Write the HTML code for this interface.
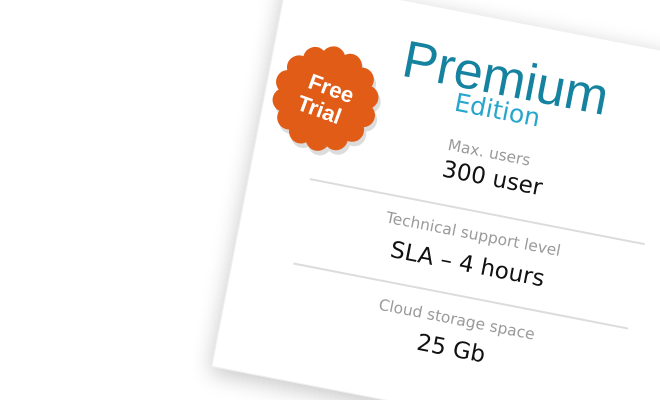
<!DOCTYPE html>
<html><head><meta charset="utf-8"><style>
html,body{margin:0;padding:0;width:660px;height:400px;overflow:hidden;background:#fff;font-family:"DejaVu Sans","Liberation Sans",sans-serif;}
.wrap{position:relative;width:660px;height:400px;overflow:hidden;}
.card{position:absolute;left:287px;top:-23px;width:470px;height:397px;background:#fff;transform-origin:0 0;transform:rotate(11deg);box-shadow:0 6px 22px rgba(0,0,0,.22);border:1px solid #eee;box-sizing:border-box;}
.t{position:absolute;left:0;width:462px;text-align:center;white-space:nowrap;}
.line{position:absolute;left:60px;width:341px;height:2px;background:#dcdcdc;}
.badge{position:absolute;left:0;top:51px;width:120px;height:120px;}
</style></head><body>
<div class="wrap">
<div class="card">
  <div class="t" style="top:27px;left:2px;line-height:60px;font-size:52px;color:#15829f;font-family:'Liberation Sans',sans-serif;">Premium</div>
  <div class="t" style="top:74px;line-height:32px;font-size:25px;color:#26a6cc;">Edition</div>
  <div class="t" style="top:122px;line-height:22px;font-size:15.5px;color:#9a9a9a;">Max. users</div>
  <div class="t" style="top:143px;left:8px;line-height:30px;font-size:23px;color:#111;">300 user</div>
  <div class="line" style="top:192px;"></div>
  <div class="t" style="top:205px;line-height:22px;font-size:15.5px;color:#9a9a9a;">Technical support level</div>
  <div class="t" style="top:232px;line-height:30px;font-size:23px;color:#111;">SLA – 4 hours</div>
  <div class="line" style="top:278px;"></div>
  <div class="t" style="top:292px;line-height:22px;font-size:15.5px;color:#9a9a9a;">Cloud storage space</div>
  <div class="t" style="top:318px;line-height:30px;font-size:23px;color:#111;">25 Gb</div>
  <svg class="badge" viewBox="0 0 120 120">
    <defs>
      <g id="b">
        <circle cx="60" cy="60" r="47"/>
        <circle cx="60" cy="19" r="12"/><circle cx="60" cy="19" r="12" transform="rotate(25.7 60 60)"/><circle cx="60" cy="19" r="12" transform="rotate(51.4 60 60)"/><circle cx="60" cy="19" r="12" transform="rotate(77.1 60 60)"/><circle cx="60" cy="19" r="12" transform="rotate(102.9 60 60)"/><circle cx="60" cy="19" r="12" transform="rotate(128.6 60 60)"/><circle cx="60" cy="19" r="12" transform="rotate(154.3 60 60)"/><circle cx="60" cy="19" r="12" transform="rotate(180 60 60)"/><circle cx="60" cy="19" r="12" transform="rotate(205.7 60 60)"/><circle cx="60" cy="19" r="12" transform="rotate(231.4 60 60)"/><circle cx="60" cy="19" r="12" transform="rotate(257.1 60 60)"/><circle cx="60" cy="19" r="12" transform="rotate(282.9 60 60)"/><circle cx="60" cy="19" r="12" transform="rotate(308.6 60 60)"/><circle cx="60" cy="19" r="12" transform="rotate(334.3 60 60)"/>
      </g>
    </defs>
    <use href="#b" transform="translate(3,4)" fill="#dcdcdc"/>
    <use href="#b" fill="#e05c17"/>
    <g transform="rotate(9 60 60)" fill="#fff" font-family="Liberation Sans, sans-serif" font-weight="bold" font-size="22" text-anchor="middle">
      <text x="62" y="56">Free</text>
      <text x="58" y="80">Trial</text>
    </g>
  </svg>
</div>
</div>
</body></html>
